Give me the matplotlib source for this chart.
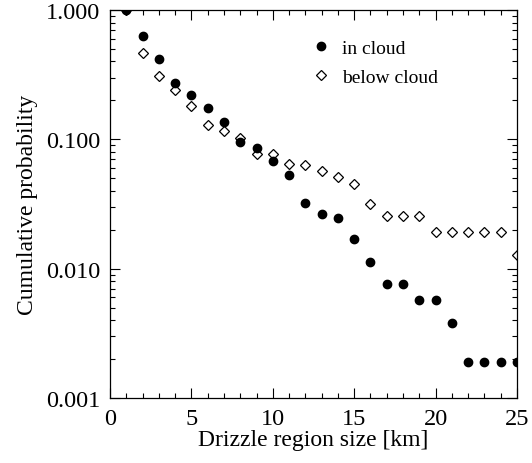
import matplotlib
matplotlib.use("Agg")
import matplotlib.pyplot as plt
from matplotlib.ticker import FixedLocator, MultipleLocator, FormatStrFormatter

plt.rcParams['font.family'] = ['Liberation Serif', 'DejaVu Serif']
plt.rcParams['mathtext.fontset'] = 'stix'

# region size [km]
size_km = list(range(1, 26))

in_cloud = [1.0, 0.631, 0.419, 0.274, 0.219, 0.175, 0.135, 0.0948, 0.0853, 0.068,
            0.0531, 0.0321, 0.0266, 0.0246, 0.0169, 0.0113, 0.00758, 0.00758,
            0.00568, 0.00568, 0.00379, 0.00189, 0.00189, 0.00189, 0.00189]

below_cloud = [1.0, 0.464, 0.308, 0.239, 0.180, 0.128, 0.115, 0.103, 0.0766, 0.0771,
               0.0641, 0.0638, 0.0574, 0.0513, 0.0448, 0.0319, 0.0255, 0.0255,
               0.0255, 0.0192, 0.0192, 0.0192, 0.0192, 0.0192, 0.0127]

y_ticks = [0.001, 0.01, 0.1, 1.0]

fig = plt.figure(figsize=(5.32, 4.64), dpi=100)
ax = fig.add_axes([0.2068, 0.1401, 0.7650, 0.8362])

ax.plot(size_km, below_cloud, linestyle='none', marker='D', markersize=5,
        markerfacecolor='white', markeredgecolor='black', markeredgewidth=0.9,
        label='below cloud')
ax.plot(size_km, in_cloud, linestyle='none', marker='o', markersize=6,
        color='black', label='in cloud')

ax.set_yscale('log')
ax.set_xlim(0, 25)
ax.set_ylim(0.001, 1.0)

ax.xaxis.set_major_locator(MultipleLocator(5))
ax.xaxis.set_minor_locator(MultipleLocator(1))
ax.yaxis.set_major_locator(FixedLocator(y_ticks))
ax.yaxis.set_major_formatter(FormatStrFormatter('%.3f'))

ax.tick_params(which='both', direction='in', top=True, right=True,
               labelsize=17.5, width=0.8)
ax.tick_params(which='major', length=7, pad=7)
ax.tick_params(which='minor', length=3.5)
for s in ax.spines.values():
    s.set_linewidth(0.9)

ax.set_xlabel('Drizzle region size [km]', fontsize=17, labelpad=0)
ax.set_ylabel('Cumulative probability', fontsize=17, labelpad=6)

h, l = ax.get_legend_handles_labels()
ax.legend(h[::-1], l[::-1], loc='upper left', bbox_to_anchor=(0.44, 0.97),
          frameon=False, fontsize=14, handletextpad=0.3, labelspacing=0.6,
          handlelength=1.5)

fig.savefig('out.png', dpi=100)
